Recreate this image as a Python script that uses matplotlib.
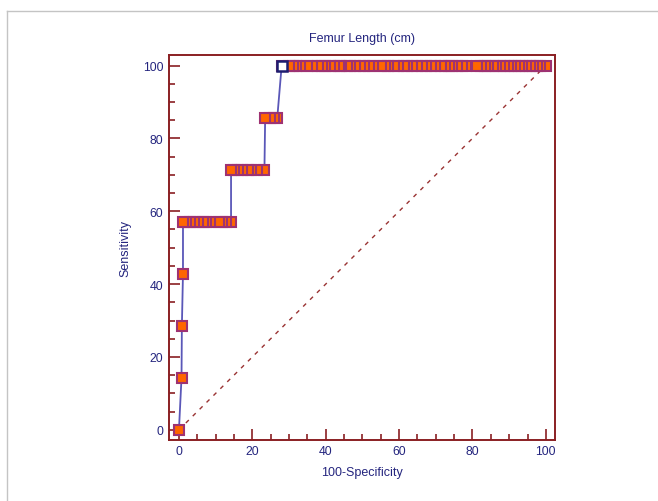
import matplotlib
matplotlib.use("Agg")
import matplotlib.pyplot as plt
from matplotlib.lines import Line2D

# ROC operating points (100-Specificity, Sensitivity), one list per sensitivity level
fpr_s000 = [0.0]
fpr_s014 = [0.7]
fpr_s029 = [0.8]
fpr_s043 = [1.1]
fpr_s057 = [1.1, 1.8, 3.1, 4.2, 5.1, 6.5, 7.4, 8.4, 10.8, 11.7, 12.9, 14.2]
fpr_s071 = [14.2, 14.9, 16.0, 17.2, 18.8, 19.6, 21.3, 23.3]
fpr_s086 = [23.5, 24.9, 25.8, 26.8]
fpr_s100 = [28.0, 29.9, 31.0, 31.9, 32.9, 34.9, 36.2, 37.9, 38.9, 39.9,
            41.2, 42.2, 43.5, 44.2, 45.8, 46.7, 48.0, 49.3, 50.4, 51.9,
            53.0, 55.0, 56.2, 57.1, 58.6, 59.8, 61.4, 62.2, 63.5, 64.9,
            66.3, 67.2, 68.8, 69.9, 71.3, 72.4, 73.6, 74.5, 75.8, 77.1,
            78.2, 81.3, 82.4, 83.4, 84.3, 85.5, 86.4, 87.6, 88.5, 89.7,
            90.6, 91.5, 92.7, 93.6, 94.5, 95.6, 96.4, 97.5, 98.4, 100.0]

sens_levels = [0.0, 14.29, 28.57, 42.86, 57.14, 71.43, 85.71, 100.0]
fpr_groups = [fpr_s000, fpr_s014, fpr_s029, fpr_s043,
              fpr_s057, fpr_s071, fpr_s086, fpr_s100]

# Criterion point (Youden index)
best_fpr = 28.0
best_sens = 100.0

title_text = "Femur Length (cm)"
xlabel_text = "100-Specificity"
ylabel_text = "Sensitivity"
tick_values = [0, 20, 40, 60, 80, 100]

roc_x, roc_y = [], []
for sens, xs in zip(sens_levels, fpr_groups):
    for x in xs:
        roc_x.append(x)
        roc_y.append(sens)

plt.rcParams["font.family"] = ["Liberation Sans", "DejaVu Sans"]

navy = "#24257e"
maroon = "#8a1f22"

fig = plt.figure(figsize=(6.58, 5.02), dpi=100)
ax = fig.add_axes([0.2569, 0.1222, 0.5866, 0.7663])

# chance diagonal
ax.plot([0, 100], [0, 100], color="#9a3333", lw=1.0,
        linestyle=(0, (3, 4)), zorder=1)

# ROC curve line
ax.plot(roc_x, roc_y, color="#5a57b8", lw=1.3, zorder=2)

# markers drawn from right to left so left ones sit on top
ax.plot(roc_x[::-1], roc_y[::-1], linestyle="none", marker="s",
        markersize=6.8, markerfacecolor="#ff6600",
        markeredgecolor="#9e3272", markeredgewidth=1.5, zorder=3)

ax.plot([best_fpr], [best_sens], linestyle="none", marker="s",
        markersize=6.8, markerfacecolor="white",
        markeredgecolor="#1d1d70", markeredgewidth=1.8, zorder=4)

ax.set_xlim(-2.7, 102.5)
ax.set_ylim(-2.7, 102.9)
ax.set_xticks(tick_values)
ax.set_yticks(tick_values)
ax.set_xticks(range(0, 101, 5), minor=True)
ax.set_yticks(range(0, 101, 5), minor=True)

for sp in ax.spines.values():
    sp.set_color(maroon)
    sp.set_linewidth(1.4)

ax.tick_params(which="both", direction="in", color=maroon, width=1.2,
               top=False, right=False, labelcolor=navy, labelsize=8.8)
ax.tick_params(which="major", length=8, pad=4)
ax.tick_params(which="minor", length=4)

ax.set_title(title_text, color=navy, fontsize=9, pad=10)
ax.set_xlabel(xlabel_text, color=navy, fontsize=9, labelpad=6)
ax.set_ylabel(ylabel_text, color=navy, fontsize=9, labelpad=8)

# light page frame on the top and left
fig.add_artist(Line2D([7 / 658, 1.0], [1 - 12.3 / 502, 1 - 12.3 / 502],
                      color="#c4c4c4", lw=1.0, transform=fig.transFigure))
fig.add_artist(Line2D([7 / 658, 7 / 658], [0.0, 1 - 12.3 / 502],
                      color="#c4c4c4", lw=1.0, transform=fig.transFigure))

fig.savefig("out.png", dpi=100)
